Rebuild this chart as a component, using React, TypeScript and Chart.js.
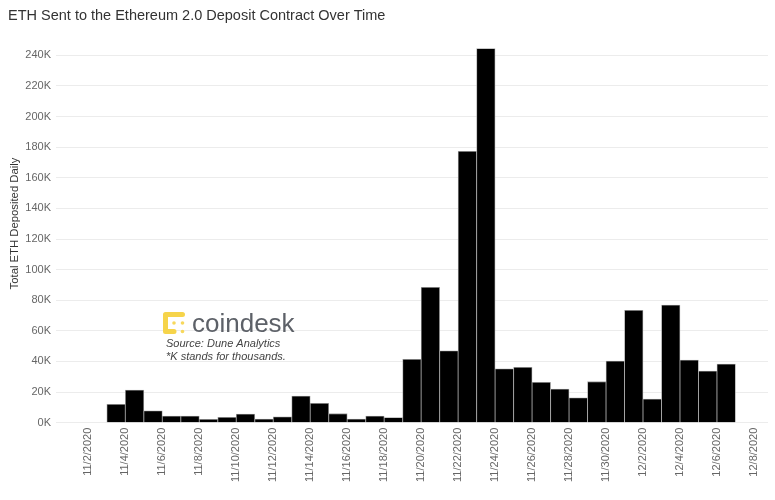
import React, { useEffect, useRef } from "react";
import { Chart, registerables } from "chart.js";

Chart.register(...registerables);

const TITLE = "ETH Sent to the Ethereum 2.0 Deposit Contract Over Time";
const Y_TITLE = "Total ETH Deposited Daily";
const START_DATE = "11/2/2020";

const barDates = [
  "11/3/2020", "11/4/2020", "11/5/2020", "11/6/2020", "11/7/2020", "11/8/2020",
  "11/9/2020", "11/10/2020", "11/11/2020", "11/12/2020", "11/13/2020", "11/14/2020",
  "11/15/2020", "11/16/2020", "11/17/2020", "11/18/2020", "11/19/2020", "11/20/2020",
  "11/21/2020", "11/22/2020", "11/23/2020", "11/24/2020", "11/25/2020", "11/26/2020",
  "11/27/2020", "11/28/2020", "11/29/2020", "11/30/2020", "12/1/2020", "12/2/2020",
  "12/3/2020", "12/4/2020", "12/5/2020", "12/6/2020",
];

const ethDeposited = [
  12000, 21300, 7800, 4400, 4400, 2200,
  3500, 5700, 2400, 3900, 17400, 12700,
  5900, 2400, 4400, 3300, 41400, 88400,
  47000, 177300, 244400, 35200, 36200, 26400,
  22000, 16300, 26800, 40300, 73400, 15500,
  76800, 40900, 33700, 38300,
];

const xTickLabels = [
  "11/2/2020", "11/4/2020", "11/6/2020", "11/8/2020", "11/10/2020", "11/12/2020",
  "11/14/2020", "11/16/2020", "11/18/2020", "11/20/2020", "11/22/2020", "11/24/2020",
  "11/26/2020", "11/28/2020", "11/30/2020", "12/2/2020", "12/4/2020", "12/6/2020",
  "12/8/2020",
];

const yTickValues = [0, 20000, 40000, 60000, 80000, 100000, 120000, 140000, 160000, 180000, 200000, 220000, 240000];

const BRAND = "coindesk";
const NOTE_LINES = ["Source: Dune Analytics", "*K stands for thousands."];

const DAY = 86400000;
function dayIndex(s: string): number {
  const [m, d, y] = s.split("/").map(Number);
  const [m0, d0, y0] = START_DATE.split("/").map(Number);
  return Math.round((Date.UTC(y, m - 1, d) - Date.UTC(y0, m0 - 1, d0)) / DAY);
}

const FONT = "'Liberation Sans', Arial, Helvetica, sans-serif";

const overlayPlugin = {
  id: "overlay",
  afterDraw(chart: any) {
    const ctx = chart.ctx;
    ctx.save();
    // Title
    ctx.fillStyle = "#333";
    ctx.font = `14.5px ${FONT}`;
    ctx.textAlign = "left";
    ctx.textBaseline = "middle";
    ctx.fillText(TITLE, 8, 16);

    // Y axis title
    ctx.save();
    ctx.translate(15, 223.5);
    ctx.rotate(-Math.PI / 2);
    ctx.textAlign = "center";
    ctx.font = `11.3px ${FONT}`;
    ctx.fillStyle = "#333";
    ctx.fillText(Y_TITLE, 0, 0);
    ctx.restore();

    // Logo icon
    ctx.strokeStyle = "#f6d44a";
    ctx.fillStyle = "#f6d44a";
    ctx.lineCap = "round";
    ctx.lineWidth = 5;
    const x0 = 165.5, y0 = 314.5, st = 8.5;
    ctx.beginPath();
    ctx.moveTo(x0, y0);
    ctx.lineTo(x0 + 2 * st, y0);
    ctx.moveTo(x0, y0);
    ctx.lineTo(x0, y0 + 2 * st);
    ctx.moveTo(x0, y0 + 2 * st);
    ctx.lineTo(x0 + st, y0 + 2 * st);
    ctx.stroke();
    ctx.globalAlpha = 0.9;
    for (const [i, j, r] of [[1, 1, 1.8], [2, 1, 1.8], [2, 2, 1.8]] as number[][]) {
      ctx.beginPath();
      ctx.arc(x0 + i * st, y0 + j * st, r, 0, Math.PI * 2);
      ctx.fill();
    }
    ctx.globalAlpha = 1;

    // Brand text
    ctx.fillStyle = "#5d6168";
    ctx.font = `26px ${FONT}`;
    ctx.textAlign = "left";
    ctx.textBaseline = "alphabetic";
    ctx.fillText(BRAND, 192, 332);

    // Notes
    ctx.fillStyle = "#444";
    ctx.font = `italic 11px ${FONT}`;
    ctx.textBaseline = "middle";
    ctx.fillText(NOTE_LINES[0], 166, 344);
    ctx.fillText(NOTE_LINES[1], 166, 357);
    ctx.restore();
  },
};

export default function App() {
  const ref = useRef<HTMLCanvasElement>(null);
  useEffect(() => {
    if (!ref.current) return;
    const data = barDates.map((d, i) => ({ x: dayIndex(d) + 0.5, y: ethDeposited[i] }));
    const tickDays = xTickLabels.map(dayIndex);
    const chart = new Chart(ref.current, {
      type: "bar",
      data: {
        datasets: [
          {
            data,
            backgroundColor: "#000",
            borderColor: "#a0a0a0",
            borderWidth: 0.8,
            barPercentage: 1,
            categoryPercentage: 1,
          },
        ],
      },
      options: {
        animation: false,
        responsive: false,
        maintainAspectRatio: false,
        layout: { padding: { top: 40, right: 7, left: 0, bottom: 0 } },
        plugins: { legend: { display: false }, tooltip: { enabled: false }, title: { display: false } },
        scales: {
          x: {
            type: "linear",
            min: -1.75,
            max: 36.76,
            offset: false,
            grid: { display: false },
            border: { display: false },
            afterBuildTicks: (s: any) => {
              s.ticks = tickDays.map((v) => ({ value: v }));
            },
            afterFit: (s: any) => {
              s.height = 500 - 40 - 382.7;
            },
            ticks: {
              autoSkip: false,
              minRotation: 90,
              maxRotation: 90,
              padding: -3,
              color: "#666",
              font: { family: FONT, size: 11 },
              callback: (v: any) => {
                const i = tickDays.indexOf(Number(v));
                return i >= 0 ? xTickLabels[i] : "";
              },
            },
          },
          y: {
            min: 0,
            max: 250000,
            grid: { color: "#ececec", drawTicks: false, lineWidth: 1 },
            border: { display: false },
            afterBuildTicks: (s: any) => {
              s.ticks = yTickValues.map((v) => ({ value: v }));
            },
            afterFit: (s: any) => {
              s.width = 56;
            },
            ticks: {
              padding: 5,
              color: "#666",
              font: { family: FONT, size: 11 },
              callback: (v: any) => `${Math.round(Number(v) / 1000)}K`,
            },
            title: { display: false },
          },
        },
      },
      plugins: [overlayPlugin],
    });
    return () => chart.destroy();
  }, []);
  return (
    <div style={{ position: "fixed", left: 0, top: 0, width: 775, height: 500, background: "#fff" }}>
      <canvas ref={ref} width={775} height={500} style={{ width: 775, height: 500 }} />
    </div>
  );
}
